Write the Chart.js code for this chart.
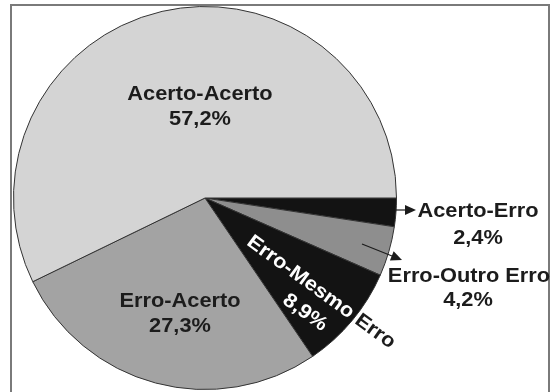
<!DOCTYPE html>
<html lang="pt">
<head>
<meta charset="utf-8">
<script src="https://cdn.jsdelivr.net/npm/chart.js@4/dist/chart.umd.min.js"></script>
<style>
  html, body { margin: 0; padding: 0; background: #fff; }
  #wrap { position: relative; width: 551px; height: 392px; overflow: hidden; }
  #frame { position: absolute; left: 10px; top: 4px; width: 536px; height: 420px; border: 2px solid #7a7a7a; }
  #chart-box { position: absolute; left: 0; top: 0; width: 551px; height: 392px; }
</style>
</head>
<body>
<div id="wrap">
  <div id="frame"></div>
  <div id="chart-box"><canvas id="chart-pie"></canvas></div>
</div>
<script>
// Fatias no sentido horário a partir das 3 horas
const categories = ['Acerto-Erro', 'Erro-Outro Erro', 'Erro-Mesmo Erro', 'Erro-Acerto', 'Acerto-Acerto'];
const percentages = [2.4, 4.2, 8.9, 27.3, 57.2];
const sliceColors = ['#131313', '#8e8e8e', '#131313', '#a3a3a3', '#d4d4d4'];

const FONT = 'bold 20px "Liberation Sans", Arial, sans-serif';
const STRETCH = 1.09; // o texto do original é um pouco mais largo que Arial
const TEXT = '#1c1c1c';

const fmt = v => v.toFixed(1).replace('.', ',') + '%';

function text(ctx, str, x, y, color) {
  ctx.save();
  ctx.translate(x, y);
  ctx.scale(STRETCH, 1);
  ctx.fillStyle = color || TEXT;
  ctx.fillText(str, 0, 0);
  ctx.restore();
}

function arrow(ctx, x1, y1, x2, y2) {
  const a = Math.atan2(y2 - y1, x2 - x1);
  ctx.save();
  ctx.strokeStyle = TEXT;
  ctx.fillStyle = TEXT;
  ctx.lineWidth = 1.2;
  ctx.beginPath();
  ctx.moveTo(x1, y1);
  ctx.lineTo(x2 - 8 * Math.cos(a), y2 - 8 * Math.sin(a));
  ctx.stroke();
  ctx.translate(x2, y2);
  ctx.rotate(a);
  ctx.beginPath();
  ctx.moveTo(0, 0);
  ctx.lineTo(-11, -5);
  ctx.lineTo(-11, 5);
  ctx.closePath();
  ctx.fill();
  ctx.restore();
}

const labelPlugin = {
  id: 'sliceLabels',
  afterDatasetsDraw(chart) {
    const ctx = chart.ctx;
    const arcs = chart.getDatasetMeta(0).data;
    const cx = arcs[0].x, cy = arcs[0].y;
    ctx.save();
    ctx.font = FONT;
    ctx.textAlign = 'center';
    ctx.textBaseline = 'alphabetic';

    // Acerto-Acerto
    text(ctx, categories[4], cx - 5, cy - 98);
    text(ctx, fmt(percentages[4]), cx - 5, cy - 73);
    // Erro-Acerto
    text(ctx, categories[3], cx - 25, cy + 109);
    text(ctx, fmt(percentages[3]), cx - 25, cy + 134);
    // Acerto-Erro
    text(ctx, categories[0], cx + 273, cy + 19);
    text(ctx, fmt(percentages[0]), cx + 273, cy + 46);
    arrow(ctx, cx + 190, cy + 12, cx + 211, cy + 12);
    // Erro-Outro Erro
    text(ctx, categories[1], cx + 264, cy + 84);
    text(ctx, fmt(percentages[1]), cx + 263, cy + 108);
    arrow(ctx, cx + 157, cy + 46, cx + 197, cy + 62);

    // Erro-Mesmo Erro: girado, branco dentro da fatia e preto fora
    const m = arcs[2];
    const drawRotated = color => {
      ctx.save();
      ctx.translate(cx + 117, cy + 93);
      ctx.rotate(36 * Math.PI / 180);
      ctx.scale(STRETCH, 1);
      ctx.fillStyle = color;
      ctx.fillText(categories[2], 0, 7);
      ctx.fillText(fmt(percentages[2]), -1, 33);
      ctx.restore();
    };
    drawRotated(TEXT);
    ctx.save();
    ctx.beginPath();
    ctx.moveTo(m.x, m.y);
    ctx.arc(m.x, m.y, m.outerRadius, m.startAngle, m.endAngle);
    ctx.closePath();
    ctx.clip();
    drawRotated('#ffffff');
    ctx.restore();

    ctx.restore();
  }
};

new Chart(document.getElementById('chart-pie'), {
  type: 'pie',
  data: {
    labels: categories,
    datasets: [{
      data: percentages,
      backgroundColor: sliceColors,
      borderColor: '#333333',
      borderWidth: 1,
    }],
  },
  options: {
    responsive: true,
    maintainAspectRatio: false,
    animation: false,
    rotation: 90,
    layout: { padding: { left: 13, right: 154, top: 6, bottom: 2 } },
    plugins: { legend: { display: false }, tooltip: { enabled: false } },
  },
  plugins: [labelPlugin],
});
</script>
</body>
</html>
